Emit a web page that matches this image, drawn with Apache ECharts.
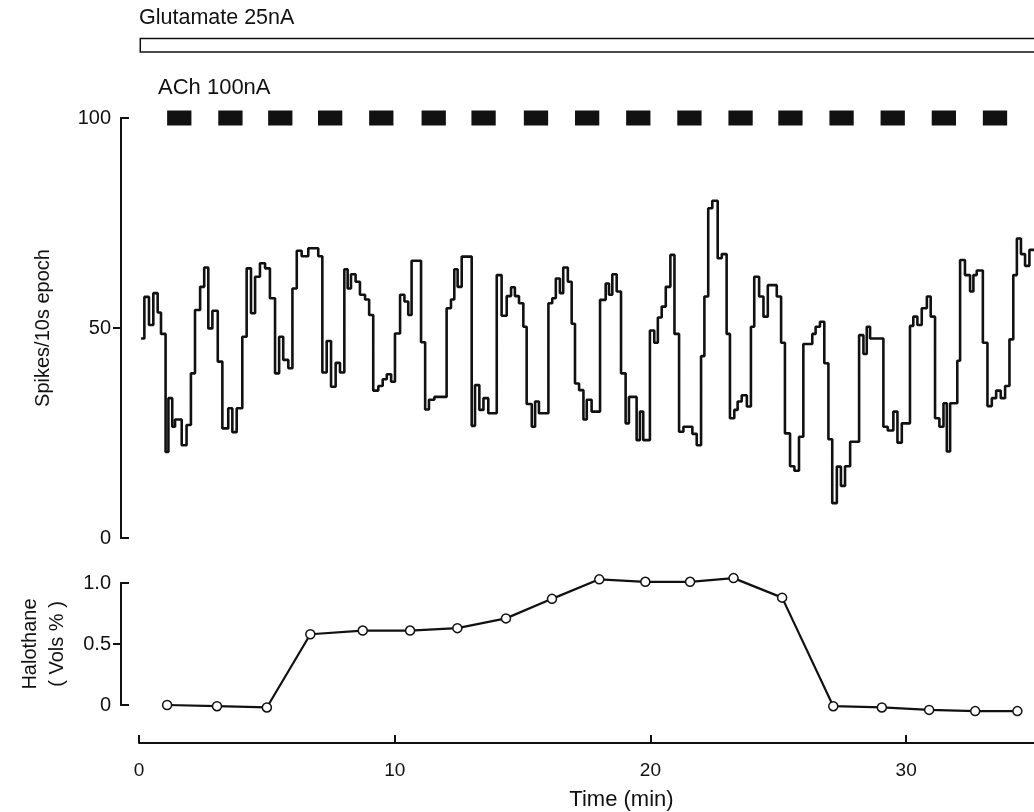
<!DOCTYPE html>
<html><head><meta charset="utf-8">
<script src="https://cdn.jsdelivr.net/npm/echarts@6/dist/echarts.min.js"></script>
<style>html,body{margin:0;padding:0;background:#fff}#c{width:1034px;height:812px}</style>
</head><body><div id="c"></div>
<script>
// Spike rate trace: times (min) where each 10 s-epoch level begins, and the level (spikes / 10 s epoch)
const spikeTime = [
  0.08, 0.21, 0.39, 0.56, 0.73, 0.86, 1.04, 1.15, 1.30, 1.41, 1.67, 1.86, 2.03, 2.19, 2.39, 2.55, 2.71, 2.87, 3.08, 3.26,
  3.49, 3.65, 3.82, 4.04, 4.21, 4.38, 4.54, 4.73, 4.93, 5.12, 5.32, 5.48, 5.64,
  5.84, 6.00, 6.17, 6.36, 6.62, 7.01, 7.17, 7.34, 7.51, 7.69, 7.86, 8.03, 8.16, 8.29, 8.47, 8.64, 8.84, 9.00,
  9.16, 9.36, 9.53, 9.69, 9.86, 10.01, 10.21, 10.38, 10.53, 10.66, 11.03, 11.19, 11.34, 11.55,
  12.03, 12.20, 12.33, 12.46, 12.62, 13.01, 13.14, 13.31, 13.47, 13.66, 13.99, 14.18, 14.38, 14.55, 14.70, 14.86,
  15.03, 15.16, 15.36, 15.49, 15.64, 16.01, 16.16, 16.30, 16.46, 16.59, 16.77, 16.92, 17.05, 17.21, 17.38, 17.51,
  17.70, 18.03, 18.25, 18.38, 18.51, 18.68, 18.85, 19.03, 19.16, 19.46, 19.59, 19.72, 19.98, 20.15, 20.29, 20.44,
  20.60, 20.78, 20.94, 21.12, 21.29, 21.64, 21.81, 21.98, 22.11, 22.26, 22.42, 22.63, 22.79, 22.98, 23.11, 23.28, 23.41,
  23.57, 23.77, 23.93, 24.06, 24.25, 24.42, 24.59, 24.94, 25.11, 25.26, 25.46, 25.63, 25.81, 25.98, 26.33, 26.46,
  26.63, 26.80, 26.96, 27.11, 27.29, 27.45, 27.61, 27.81, 28.16, 28.33, 28.46, 28.59, 29.11, 29.28,
  29.50, 29.66, 29.83, 30.15, 30.28, 30.44, 30.61, 30.81, 30.96, 31.13, 31.30, 31.46, 31.59, 31.72, 32.00, 32.11,
  32.30, 32.50, 32.63, 32.76, 33.00, 33.18, 33.35, 33.52, 33.70, 33.87, 34.04, 34.19, 34.33, 34.49, 34.65, 34.82, 35.0
];
const spikeRate = [
  47.5, 57.4, 50.7, 58.3, 53.7, 48.6, 20.5, 33.3, 26.5, 28.2, 22.1, 26.9, 39.2, 54.3, 59.8, 64.4, 49.9, 54.1, 42.0, 26.1,
  30.9, 25.2, 30.9, 47.9, 64.2, 53.5, 62.2, 65.4, 64.2, 57.1, 39.2, 47.9, 42.4,
  40.4, 59.4, 68.4, 67.1, 69.0, 67.1, 39.4, 46.9, 36.0, 41.7, 39.4, 64.0, 59.4, 62.8, 61.0, 57.9, 56.8, 53.1,
  35.1, 36.2, 37.8, 39.0, 37.2, 48.7, 57.9, 56.3, 53.1, 66.0, 46.6, 30.6, 32.9, 33.6,
  54.7, 56.8, 64.0, 59.8, 67.0, 26.7, 36.4, 30.5, 33.3, 29.7, 62.6, 52.9, 57.6, 59.7, 57.6, 55.9,
  50.3, 31.9, 26.5, 32.5, 29.7, 55.9, 57.1, 61.8, 58.3, 64.4, 61.0, 51.0, 36.8, 35.2, 28.2, 32.9,
  30.1, 56.7, 60.6, 57.9, 62.8, 58.7, 39.2, 27.3, 33.6, 23.3, 30.1, 23.3, 49.4, 46.5, 52.5, 55.1,
  59.8, 67.4, 48.6, 25.3, 26.5, 24.8, 22.1, 43.3, 57.5, 78.5, 80.3, 66.6, 67.6, 48.6, 28.5, 30.5, 32.5,
  34.0, 31.3, 50.3, 62.2, 57.5, 52.7, 60.2, 57.5, 46.5, 24.9, 17.1, 16.0, 24.1, 46.2, 48.6, 50.3,
  51.5, 41.6, 23.5, 8.3, 17.0, 12.4, 17.1, 22.9, 48.3, 43.8, 50.3, 47.5, 26.5, 25.6,
  30.1, 22.7, 27.3, 50.5, 52.7, 50.7, 54.7, 57.5, 52.7, 28.5, 26.5, 32.1, 20.6, 32.1, 42.2, 66.2,
  62.6, 58.7, 62.6, 63.7, 46.5, 31.4, 33.3, 35.1, 33.3, 36.2, 47.3, 62.6, 71.3, 67.6, 64.8, 68.6, 68.6
];
// Halothane concentration samples
const haloTime = [1.1, 3.05, 5.0, 6.7, 8.75, 10.6, 12.45, 14.35, 16.15, 18.0, 19.8, 21.55, 23.25, 25.15, 27.15, 29.05, 30.9, 32.7, 34.35];
const haloVol  = [0, -0.01, -0.02, 0.58, 0.61, 0.61, 0.63, 0.71, 0.87, 1.03, 1.01, 1.01, 1.04, 0.88, -0.01, -0.02, -0.04, -0.05, -0.05];
// Iontophoretic applications (min)
const achStart = [1.1, 3.1, 5.05, 7.0, 9.0, 11.05, 13.0, 15.05, 17.05, 19.05, 21.05, 23.05, 25.0, 27.0, 29.0, 31.0, 33.0];
const achEnd   = [2.05, 4.05, 6.0, 7.95, 9.95, 12.0, 13.95, 16.0, 18.0, 20.0, 22.0, 24.0, 25.95, 27.95, 29.95, 31.95, 33.95];
const gluStart = [0.05];
const gluEnd   = [36];
const xTicks = [0, 10, 20, 30];
const spikeTicks = [0, 50, 100];
const haloTicks = [0, 0.5, 1];
const labels = { glu: 'Glutamate 25nA', ach: 'ACh 100nA', x: 'Time (min)', spikes: 'Spikes/10s epoch', halo: 'Halothane\n( Vols % )' };

const FONT = '"Liberation Sans", Arial, sans-serif';
const INK = '#111';
const txt = (size) => ({ fontFamily: FONT, fontSize: size, color: INK, fontWeight: 'normal' });

const chart = echarts.init(document.getElementById('c'), null, { renderer: 'canvas' });

function yPair(grid, ticks, name, gap, fmt) {
  const min = ticks[0], max = ticks[ticks.length - 1];
  return [
    {
      type: 'value', gridIndex: grid, position: 'left', min: min, max: max, interval: ticks[1] - ticks[0], offset: 18,
      axisLine: { show: true, onZero: false, lineStyle: { color: INK, width: 2 } },
      axisTick: { show: true, inside: false, length: 8, customValues: [ticks[1]], lineStyle: { color: INK, width: 2 } },
      axisLabel: { margin: 10, formatter: fmt, ...txt(20) },
      splitLine: { show: false },
      name: name, nameLocation: 'middle', nameGap: gap, nameTextStyle: { ...txt(20), lineHeight: 27 }
    },
    {
      type: 'value', gridIndex: grid, position: 'left', min: min, max: max, interval: max - min, offset: 18,
      axisLine: { show: true, onZero: false, lineStyle: { color: INK, width: 2 } },
      axisTick: { show: true, inside: true, length: 8, lineStyle: { color: INK, width: 2 } },
      axisLabel: { show: false }, splitLine: { show: false }
    }
  ];
}

const option = {
  animation: false,
  backgroundColor: '#fff',
  title: [
    { text: labels.glu, left: 139, top: 7, padding: 0, textStyle: txt(21.5) },
    { text: labels.ach, left: 158, top: 77, padding: 0, textStyle: txt(22) }
  ],
  grid: [
    { left: 139, right: 0, top: 118, height: 420 },
    { left: 139, right: 0, top: 583, height: 124 }
  ],
  xAxis: [
    { type: 'value', gridIndex: 0, min: 0, max: 35, show: false },
    {
      type: 'value', gridIndex: 1, min: xTicks[0], max: 35, interval: xTicks[1] - xTicks[0], offset: 38,
      axisLine: { onZero: false, lineStyle: { color: INK, width: 2 } },
      axisTick: { inside: true, length: 8, lineStyle: { color: INK, width: 2 } },
      axisLabel: { showMaxLabel: false, margin: 18, ...txt(19) },
      splitLine: { show: false },
      name: labels.x, nameLocation: 'middle', nameGap: 46,
      nameTextStyle: { ...txt(22), padding: [0, 0, 0, 70] }
    }
  ],
  yAxis: [
    ...yPair(0, spikeTicks, labels.spikes, 64, v => String(v)),
    ...yPair(1, haloTicks, labels.halo, 50, v => v === 0 ? '0' : v.toFixed(1))
  ],
  series: [
    {
      type: 'line', xAxisIndex: 0, yAxisIndex: 0, step: 'end', showSymbol: false,
      lineStyle: { color: INK, width: 2.6 },
      data: spikeTime.map((t, i) => [t, spikeRate[i]])
    },
    {
      type: 'line', xAxisIndex: 1, yAxisIndex: 2, clip: false,
      symbol: 'circle', symbolSize: 9,
      itemStyle: { color: '#fff', borderColor: INK, borderWidth: 1.5 },
      lineStyle: { color: INK, width: 2.2 },
      data: haloTime.map((t, i) => [t, haloVol[i]])
    },
    {
      type: 'custom', xAxisIndex: 0, yAxisIndex: 0, clip: false,
      encode: { x: [0, 1] },
      data: achStart.map((s, i) => [s, achEnd[i]]),
      renderItem: (params, api) => {
        const a = api.coord([api.value(0), 100]);
        const b = api.coord([api.value(1), 100]);
        return { type: 'rect', shape: { x: a[0], y: a[1] - 7.5, width: b[0] - a[0], height: 15 }, style: { fill: INK } };
      }
    },
    {
      type: 'custom', xAxisIndex: 0, yAxisIndex: 0, clip: false,
      encode: { x: [0, 1] },
      data: gluStart.map((s, i) => [s, gluEnd[i]]),
      renderItem: (params, api) => {
        const a = api.coord([api.value(0), 100]);
        const b = api.coord([api.value(1), 100]);
        return { type: 'rect', shape: { x: a[0], y: a[1] - 79.5, width: b[0] - a[0], height: 13.5 }, style: { fill: '#fff', stroke: INK, lineWidth: 1.5 } };
      }
    }
  ]
};
chart.setOption(option);
</script>
</body></html>
